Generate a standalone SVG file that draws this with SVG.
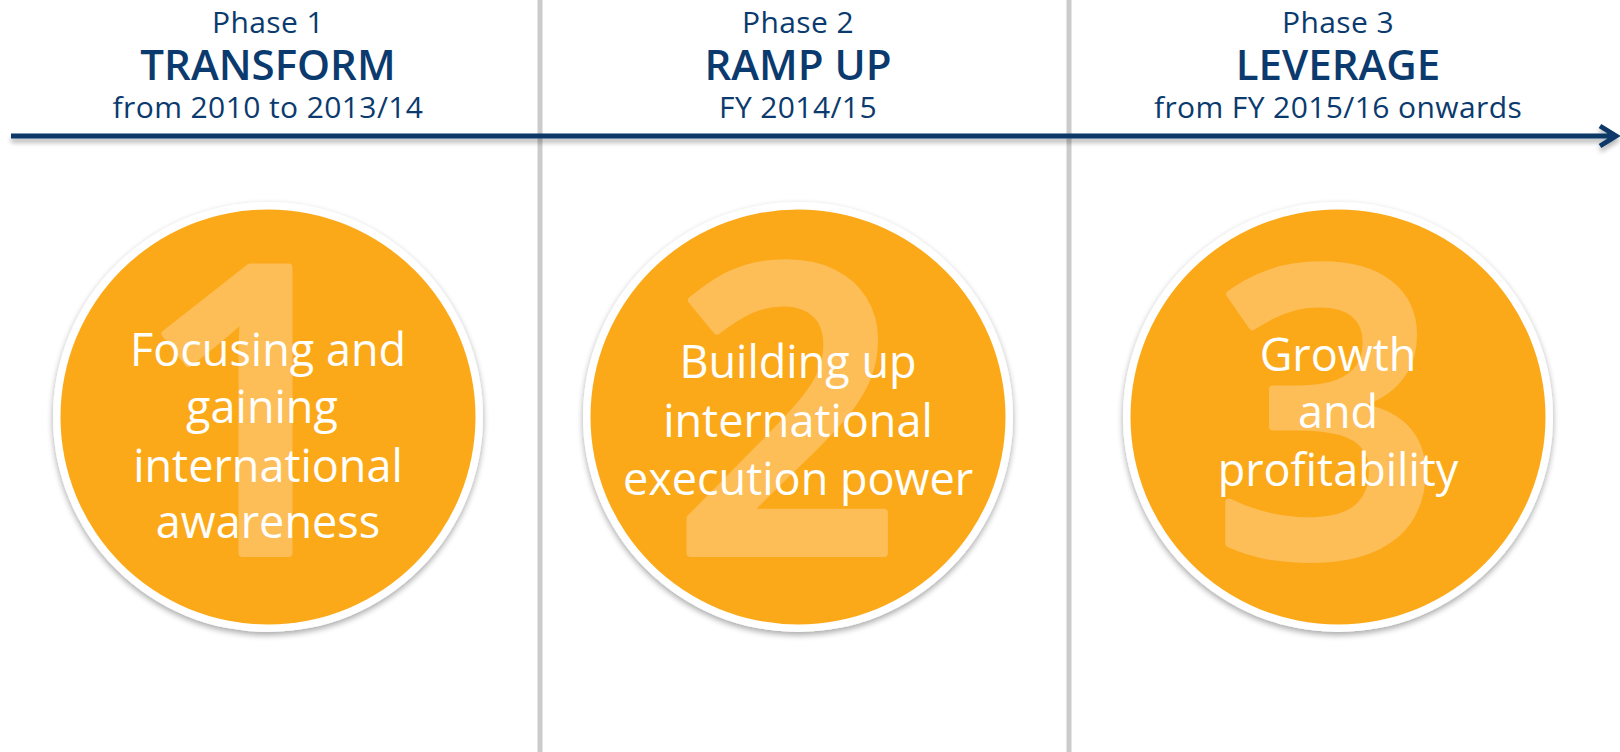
<svg xmlns="http://www.w3.org/2000/svg" width="1620" height="752" viewBox="0 0 1620 752">
  <defs>
    <style>
      .phase { font-family: "Open Sans", "Noto Sans", sans-serif; font-size: 30px; letter-spacing: 0.4px; fill: #0b3a6e; text-anchor: middle; }
      .title { font-family: "Open Sans", "Noto Sans", sans-serif; font-size: 42px; font-weight: 600; fill: #0b3a6e; text-anchor: middle; }
      .label { font-family: "Open Sans", "Noto Sans", sans-serif; font-size: 45px; font-weight: 500; fill: #ffffff; text-anchor: middle; }
      .digit { font-family: "Open Sans", "Noto Sans", sans-serif; font-size: 400px; font-weight: 600; fill: #fdbd57; stroke: #fdbd57; stroke-width: 8; stroke-linejoin: round; text-anchor: middle; }
      .ring { fill: #ffffff; filter: url(#ringShadow); }
      .disc { fill: #fba919; }
      .divider { fill: #cbcbcb; filter: url(#soft); }
      .timeline { stroke: #0b3768; stroke-width: 5; fill: none; filter: url(#lineShadow); }
    </style>
    <filter id="ringShadow" x="-10%" y="-10%" width="120%" height="125%">
      <feGaussianBlur in="SourceAlpha" stdDeviation="3"/>
      <feOffset dx="0" dy="3" result="b"/>
      <feComponentTransfer><feFuncA type="linear" slope="0.35"/></feComponentTransfer>
      <feMerge><feMergeNode/><feMergeNode in="SourceGraphic"/></feMerge>
    </filter>
    <filter id="lineShadow" filterUnits="userSpaceOnUse" x="0" y="110" width="1620" height="60">
      <feGaussianBlur in="SourceAlpha" stdDeviation="2.5"/>
      <feOffset dx="0" dy="4" result="b"/>
      <feComponentTransfer><feFuncA type="linear" slope="0.3"/></feComponentTransfer>
      <feMerge><feMergeNode/><feMergeNode in="SourceGraphic"/></feMerge>
    </filter>
    <filter id="soft" filterUnits="userSpaceOnUse" x="0" y="0" width="1620" height="752">
      <feGaussianBlur stdDeviation="0.7"/>
    </filter>
  </defs>

  <rect width="1620" height="752" fill="#ffffff"/>

  <!-- phase dividers and timeline arrow -->
  <g id="connectors">
    <rect class="divider" x="537.5" y="0" width="5" height="752"/>
    <rect class="divider" x="1066.5" y="0" width="5" height="752"/>
    <path class="timeline" d="M11 136 H1614 M1600 126 L1616 136 L1600 146"/>
  </g>

  <!-- phase headers -->
  <g id="header-1">
    <text class="phase" x="268" y="33">Phase 1</text>
    <text class="title" x="268" y="80">TRANSFORM</text>
    <text class="phase" x="268" y="118">from 2010 to 2013/14</text>
  </g>
  <g id="header-2">
    <text class="phase" x="798" y="33">Phase 2</text>
    <text class="title" x="798" y="80">RAMP UP</text>
    <text class="phase" x="798" y="118">FY 2014/15</text>
  </g>
  <g id="header-3">
    <text class="phase" x="1338" y="33">Phase 3</text>
    <text class="title" x="1338" y="80">LEVERAGE</text>
    <text class="phase" x="1338" y="118">from FY 2015/16 onwards</text>
  </g>

  <!-- phase circles -->
  <g id="circle-1">
    <circle class="ring" cx="268" cy="417" r="215"/>
    <circle class="disc" cx="268" cy="417" r="207.5"/>
    <text class="digit" x="250" y="553">1</text>
    <text class="label" x="268" y="366">Focusing and</text>
    <text class="label" x="262" y="423">gaining</text>
    <text class="label" x="268" y="482">international</text>
    <text class="label" x="268" y="538">awareness</text>
  </g>
  <g id="circle-2">
    <circle class="ring" cx="798" cy="417" r="215"/>
    <circle class="disc" cx="798" cy="417" r="207.5"/>
    <text class="digit" x="787" y="553">2</text>
    <text class="label" x="798" y="378">Building up</text>
    <text class="label" x="798" y="437">international</text>
    <text class="label" x="798" y="495">execution power</text>
  </g>
  <g id="circle-3">
    <circle class="ring" cx="1338" cy="417" r="215"/>
    <circle class="disc" cx="1338" cy="417" r="207.5"/>
    <text class="digit" x="1327" y="555">3</text>
    <text class="label" x="1338" y="371">Growth</text>
    <text class="label" x="1338" y="428">and</text>
    <text class="label" x="1338" y="486">profitability</text>
  </g>
</svg>
